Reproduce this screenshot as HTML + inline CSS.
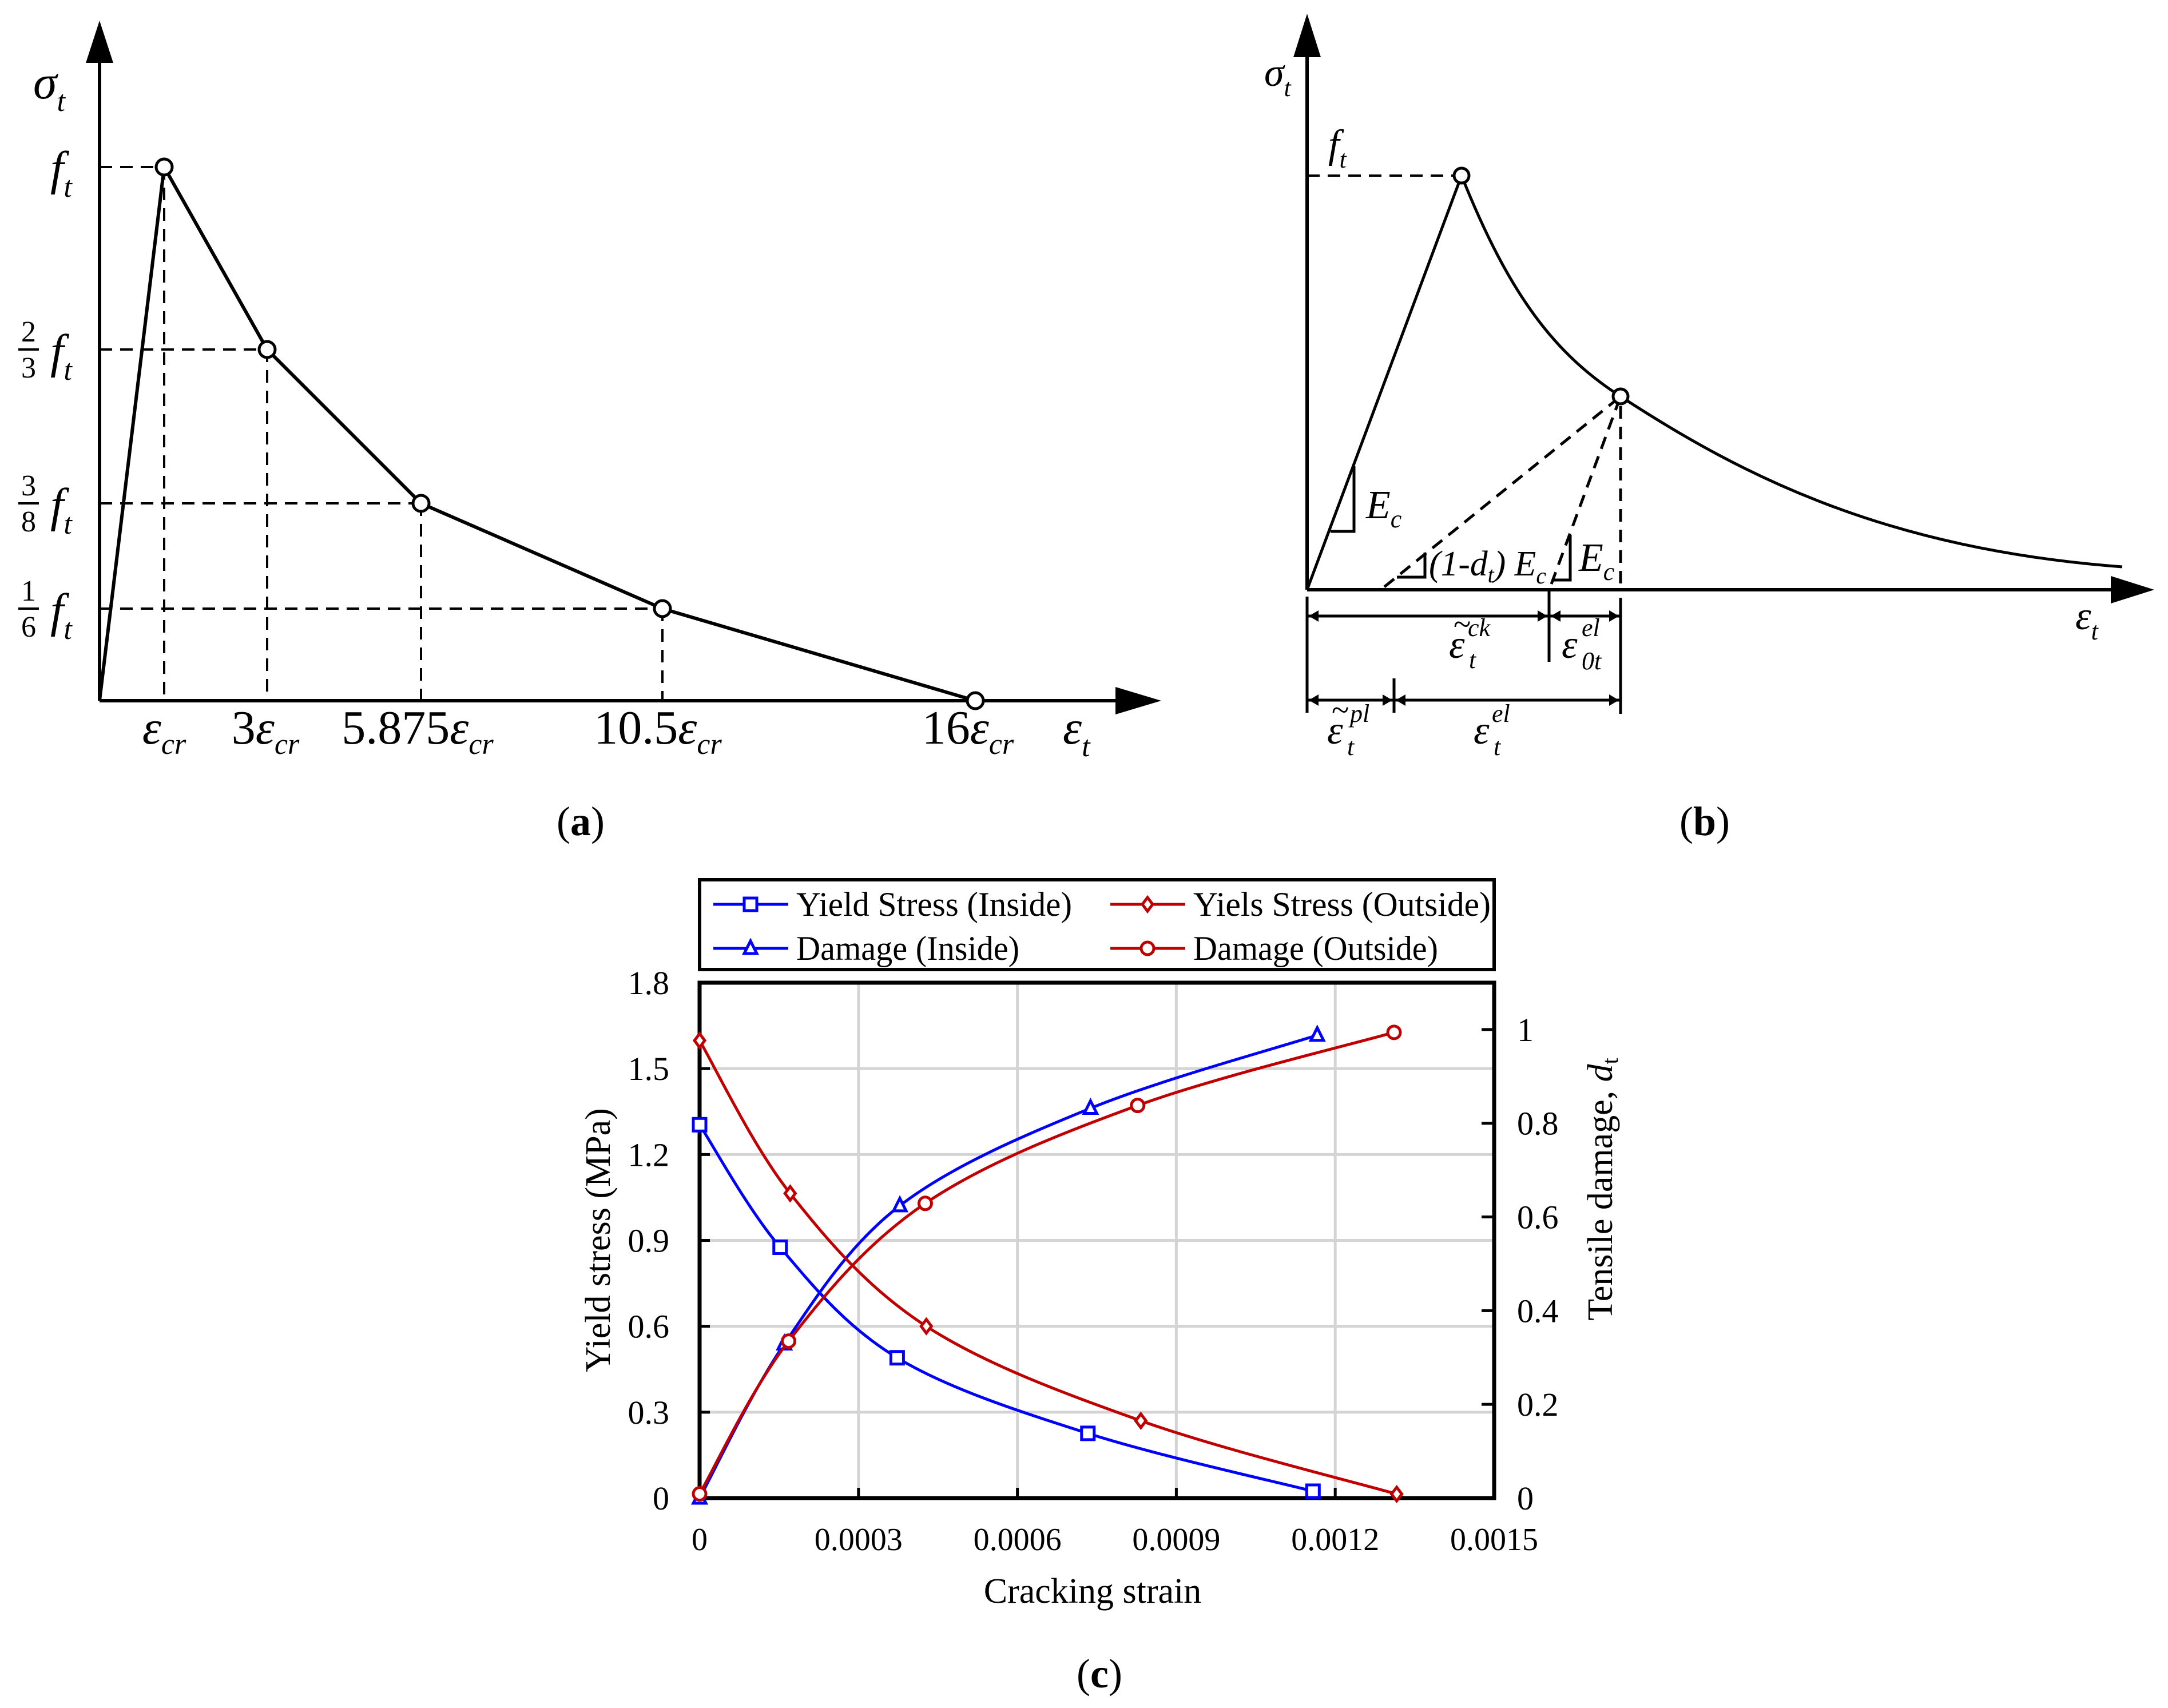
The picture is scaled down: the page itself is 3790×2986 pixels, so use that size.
<!DOCTYPE html>
<html><head><meta charset="utf-8"><style>
html,body{margin:0;padding:0;background:#fff;}
svg{display:block;font-family:"Liberation Serif",serif;}
.it{font-style:italic;}
</style></head><body>
<svg id="fig" width="3790" height="2986" viewBox="0 0 3790 2986" xmlns="http://www.w3.org/2000/svg">
<rect width="3790" height="2986" fill="#fff"/>

<!-- Panel (a) -->
<g stroke="#000" fill="none">
  <line x1="174" y1="1225" x2="174" y2="110" stroke-width="6"/>
  <polygon points="150,110 198,110 174,36" fill="#000" stroke="none"/>
  <line x1="174" y1="1225" x2="1950" y2="1225" stroke-width="6"/>
  <polygon points="1950,1201 1950,1249 2030,1225" fill="#000" stroke="none"/>
  <g stroke-width="4" stroke-dasharray="22,14">
    <line x1="174" y1="292" x2="287" y2="292"/><line x1="287" y1="292" x2="287" y2="1225"/>
    <line x1="174" y1="611" x2="467" y2="611"/><line x1="467" y1="611" x2="467" y2="1225"/>
    <line x1="174" y1="880" x2="736" y2="880"/><line x1="736" y1="880" x2="736" y2="1225"/>
    <line x1="174" y1="1064" x2="1158" y2="1064"/><line x1="1158" y1="1064" x2="1158" y2="1225"/>
  </g>
  <polyline points="174,1225 287,292 467,611 736,880 1158,1064 1705,1225" stroke-width="6"/>
  <g fill="#fff" stroke-width="5">
    <circle cx="287" cy="292" r="14"/><circle cx="467" cy="611" r="14"/><circle cx="736" cy="880" r="14"/><circle cx="1158" cy="1064" r="14"/><circle cx="1705" cy="1225" r="14"/>
  </g>
</g>
<g font-size="84">
  <text x="58" y="172" class="it">σ<tspan font-size="52" dy="22">t</tspan></text>
  <text x="88" y="322" class="it">f<tspan font-size="52" dy="22">t</tspan></text>
  <text x="50" y="597" font-size="52" text-anchor="middle">2</text><line x1="32" y1="611" x2="68" y2="611" stroke="#000" stroke-width="4"/><text x="50" y="660" font-size="52" text-anchor="middle">3</text>
  <text x="88" y="642" class="it">f<tspan font-size="52" dy="22">t</tspan></text>
  <text x="50" y="866" font-size="52" text-anchor="middle">3</text><line x1="32" y1="880" x2="68" y2="880" stroke="#000" stroke-width="4"/><text x="50" y="929" font-size="52" text-anchor="middle">8</text>
  <text x="88" y="911" class="it">f<tspan font-size="52" dy="22">t</tspan></text>
  <text x="50" y="1050" font-size="52" text-anchor="middle">1</text><line x1="32" y1="1064" x2="68" y2="1064" stroke="#000" stroke-width="4"/><text x="50" y="1113" font-size="52" text-anchor="middle">6</text>
  <text x="88" y="1095" class="it">f<tspan font-size="52" dy="22">t</tspan></text>
  <text x="287" y="1300" text-anchor="middle"><tspan class="it">ε</tspan><tspan class="it" font-size="52" dy="18">cr</tspan></text>
  <text x="464" y="1300" text-anchor="middle">3<tspan class="it">ε</tspan><tspan class="it" font-size="52" dy="18">cr</tspan></text>
  <text x="730" y="1300" text-anchor="middle">5.875<tspan class="it">ε</tspan><tspan class="it" font-size="52" dy="18">cr</tspan></text>
  <text x="1150" y="1300" text-anchor="middle">10.5<tspan class="it">ε</tspan><tspan class="it" font-size="52" dy="18">cr</tspan></text>
  <text x="1692" y="1300" text-anchor="middle">16<tspan class="it">ε</tspan><tspan class="it" font-size="52" dy="18">cr</tspan></text>
  <text x="1858" y="1300" class="it">ε<tspan font-size="52" dy="22">t</tspan></text>
  <text x="1015" y="1460" text-anchor="middle" font-size="72">(<tspan font-weight="bold">a</tspan>)</text>
</g>

<!-- Panel (b) -->
<g stroke="#000" fill="none">
  <line x1="2285" y1="1031" x2="2285" y2="100" stroke-width="6"/>
  <polygon points="2261,100 2309,100 2285,24" fill="#000" stroke="none"/>
  <line x1="2285" y1="1031" x2="3690" y2="1031" stroke-width="6"/>
  <polygon points="3690,1007 3690,1055 3766,1031" fill="#000" stroke="none"/>
  <line x1="2285" y1="307" x2="2555" y2="307" stroke-width="4" stroke-dasharray="22,14"/>
  <path d="M2285,1031 L2555,307 C2640,520 2720,620 2833,693 C3050,835 3300,960 3710,991" stroke-width="5"/>
  <g stroke-width="5" stroke-dasharray="22,14">
    <line x1="2420" y1="1026" x2="2833" y2="693"/>
    <line x1="2712" y1="1021" x2="2833" y2="693"/>
    <line x1="2833" y1="710" x2="2833" y2="1031"/>
  </g>
  <polyline points="2367,815 2367,929 2326,929" stroke-width="5"/>
  <polyline points="2491,966 2491,1009 2442,1009" stroke-width="5"/>
  <polyline points="2745,935 2745,1014 2714,1014" stroke-width="5"/>
  <circle cx="2555" cy="307" r="13" fill="#fff" stroke-width="5"/>
  <circle cx="2833" cy="693" r="13" fill="#fff" stroke-width="5"/>
  <g stroke-width="5">
    <line x1="2285" y1="1043" x2="2285" y2="1246"/>
    <line x1="2833" y1="1045" x2="2833" y2="1248"/>
    <line x1="2708" y1="1031" x2="2708" y2="1157"/>
    <line x1="2437" y1="1186" x2="2437" y2="1246"/>
    <line x1="2285" y1="1077" x2="2833" y2="1077"/>
    <line x1="2285" y1="1224" x2="2833" y2="1224"/>
  </g>
  <g fill="#000" stroke="none">
    <polygon points="2288,1077 2305,1067 2305,1087"/><polygon points="2705,1077 2688,1067 2688,1087"/>
    <polygon points="2711,1077 2728,1067 2728,1087"/><polygon points="2830,1077 2813,1067 2813,1087"/>
    <polygon points="2288,1224 2305,1214 2305,1234"/><polygon points="2434,1224 2417,1214 2417,1234"/>
    <polygon points="2440,1224 2457,1214 2457,1234"/><polygon points="2830,1224 2813,1214 2813,1234"/>
  </g>
</g>
<g font-size="70" class="it">
  <text x="2210" y="150" class="it">σ<tspan font-size="44" dy="18">t</tspan></text>
  <text x="2322" y="275" class="it">f<tspan font-size="44" dy="18">t</tspan></text>
  <text x="2388" y="906" class="it">E<tspan font-size="44" dy="16">c</tspan></text>
  <text x="2498" y="1006" class="it" font-size="62" textLength="205" lengthAdjust="spacingAndGlyphs">(1-d<tspan font-size="40" dy="12">t</tspan><tspan dy="-12">) E</tspan><tspan font-size="40" dy="14">c</tspan></text>
  <text x="2760" y="998" class="it">E<tspan font-size="44" dy="16">c</tspan></text>
  <text x="2533" y="1150" class="it">ε</text><text x="2541" y="1110" font-size="56" font-style="normal">~</text>
  <text x="2568" y="1168" font-size="44">t</text><text x="2566" y="1112" font-size="44">ck</text>
  <text x="2730" y="1150" class="it">ε</text>
  <text x="2765" y="1170" font-size="44">0t</text><text x="2765" y="1112" font-size="44">el</text>
  <text x="2320" y="1300" class="it">ε</text><text x="2328" y="1260" font-size="56" font-style="normal">~</text>
  <text x="2355" y="1320" font-size="44">t</text><text x="2360" y="1262" font-size="44">pl</text>
  <text x="2576" y="1300" class="it">ε</text>
  <text x="2611" y="1320" font-size="44">t</text><text x="2608" y="1262" font-size="44">el</text>
  <text x="3628" y="1100" class="it">ε<tspan font-size="44" dy="18">t</tspan></text>
  <text x="2980" y="1460" text-anchor="middle" font-size="72" font-style="normal">(<tspan font-weight="bold">b</tspan>)</text>
</g>

<!-- Panel (c) -->
<g id="chartc"></g>
</svg>
<script>
const xTicks = [0, 0.0003, 0.0006, 0.0009, 0.0012, 0.0015];
const xTickLabels = ["0", "0.0003", "0.0006", "0.0009", "0.0012", "0.0015"];
const yLeftTicks = [0, 0.3, 0.6, 0.9, 1.2, 1.5, 1.8];
const yLeftLabels = ["0", "0.3", "0.6", "0.9", "1.2", "1.5", "1.8"];
const yRightTicks = [0, 0.2, 0.4, 0.6, 0.8, 1];
const yRightLabels = ["0", "0.2", "0.4", "0.6", "0.8", "1"];
const yieldInsideX = [0, 0.000152, 0.000373, 0.000733, 0.001158];
const yieldInsideY = [1.304, 0.876, 0.49, 0.226, 0.024];
const yieldOutsideX = [0, 0.000171, 0.000428, 0.000833, 0.001316];
const yieldOutsideY = [1.598, 1.064, 0.60, 0.27, 0.014];
const damageInsideX = [0, 0.00016, 0.000378, 0.000738, 0.001166];
const damageInsideY = [0, 0.329, 0.624, 0.832, 0.988];
const damageOutsideX = [0, 0.000168, 0.000426, 0.000827, 0.001311];
const damageOutsideY = [0.009, 0.335, 0.629, 0.838, 0.994];

const NS = "http://www.w3.org/2000/svg";
const g = document.getElementById("chartc");
const L = 1223, R = 2612, T = 1718, B = 2619;
const xMax = 0.0015, yLMax = 1.8, yRMax = 1.1;
const sx = v => L + v / xMax * (R - L);
const syL = v => B - v / yLMax * (B - T);
const syR = v => B - v / yRMax * (B - T);
function el(tag, attrs, parent) {
  const e = document.createElementNS(NS, tag);
  for (const k in attrs) e.setAttribute(k, attrs[k]);
  (parent || g).appendChild(e);
  return e;
}
xTicks.forEach((t, i) => {
  if (i > 0 && i < xTicks.length - 1) {
    const l = el("line", {x1: sx(t), x2: sx(t), y1: T, y2: B, stroke: "#d4d4d4", "stroke-width": 5});
    
    
    el("line", {x1: sx(t), x2: sx(t), y1: B, y2: B - 18, stroke: "#000", "stroke-width": 5});
  }
  const tx = el("text", {x: sx(t), y: 2710, "text-anchor": "middle", "font-size": 56});
  tx.textContent = xTickLabels[i];
  
  
});
yLeftTicks.forEach((t, i) => {
  if (i > 0 && i < yLeftTicks.length - 1) {
    const l = el("line", {x1: L, x2: R, y1: syL(t), y2: syL(t), stroke: "#d4d4d4", "stroke-width": 5});
    
    
  }
  el("line", {x1: L, x2: L + 18, y1: syL(t), y2: syL(t), stroke: "#000", "stroke-width": 5});
  const tx = el("text", {x: 1170, y: syL(t) + 20, "text-anchor": "end", "font-size": 58});
  tx.textContent = yLeftLabels[i];
  
  
});
yRightTicks.forEach((t, i) => {
  el("line", {x1: R, x2: R - 22, y1: syR(t), y2: syR(t), stroke: "#000", "stroke-width": 5});
  const tx = el("text", {x: 2652, y: syR(t) + 20, "font-size": 58});
  tx.textContent = yRightLabels[i];
  
  
});
const frame = el("rect", {x: L, y: T, width: R - L, height: B - T, fill: "none", stroke: "#000", "stroke-width": 7});



function spline(pts) {
  let d = "M" + pts[0][0] + "," + pts[0][1];
  for (let i = 0; i < pts.length - 1; i++) {
    const p0 = pts[Math.max(0, i - 1)], p1 = pts[i], p2 = pts[i + 1], p3 = pts[Math.min(pts.length - 1, i + 2)];
    const c1 = [p1[0] + (p2[0] - p0[0]) / 6, p1[1] + (p2[1] - p0[1]) / 6];
    const c2 = [p2[0] - (p3[0] - p1[0]) / 6, p2[1] - (p3[1] - p1[1]) / 6];
    d += " C" + c1 + " " + c2 + " " + p2;
  }
  return d;
}
function marker(type, x, y, color, parent) {
  let m;
  if (type === "sq") m = el("rect", {x: x - 11, y: y - 11, width: 22, height: 22, fill: "#fff", stroke: color, "stroke-width": 5}, parent);
  else if (type === "tri") m = el("polygon", {points: `${x},${y-13} ${x-11},${y+9} ${x+11},${y+9}`, fill: "#fff", stroke: color, "stroke-width": 5}, parent);
  else if (type === "dia") m = el("polygon", {points: `${x},${y-12} ${x+9},${y} ${x},${y+12} ${x-9},${y}`, fill: "#fff", stroke: color, "stroke-width": 5}, parent);
  else m = el("circle", {cx: x, cy: y, r: 11, fill: "#fff", stroke: color, "stroke-width": 5}, parent);
  return m;
}
const series = [
  {xs: yieldInsideX, ys: yieldInsideY, sy: syL, c: "#0000ff", m: "sq", n: "yield-stress-inside"},
  {xs: damageInsideX, ys: damageInsideY, sy: syR, c: "#0000ff", m: "tri", n: "damage-inside"},
  {xs: yieldOutsideX, ys: yieldOutsideY, sy: syL, c: "#c00000", m: "dia", n: "yield-stress-outside"},
  {xs: damageOutsideX, ys: damageOutsideY, sy: syR, c: "#c00000", m: "circ", n: "damage-outside"}
];
series.forEach(s => {
  const sg = el("g", {});
  
  
  const pts = s.xs.map((x, i) => [sx(x), s.sy(s.ys[i])]);
  const p = el("path", {d: spline(pts), fill: "none", stroke: s.c, "stroke-width": 5}, sg);
  
  
  pts.forEach(pt => {
    const m = marker(s.m, pt[0], pt[1], s.c, sg);
    
    
  });
});
const lg = el("g", {});


el("rect", {x: 1223, y: 1538, width: 1389, height: 157, fill: "#fff", stroke: "#000", "stroke-width": 6}, lg);
const legendNames = ["Yield Stress (Inside)", "Yiels Stress (Outside)", "Damage (Inside)", "Damage (Outside)"];
const legendPos = [[1247, 1581, "#0000ff", "sq"], [1941, 1581, "#c00000", "dia"], [1247, 1658, "#0000ff", "tri"], [1941, 1658, "#c00000", "circ"]];
legendPos.forEach((p, i) => {
  const e = el("g", {}, lg);
  
  
  el("line", {x1: p[0], x2: p[0] + 131, y1: p[1], y2: p[1], stroke: p[2], "stroke-width": 5}, e);
  marker(p[3], p[0] + 65, p[1], p[2], e);
  const t = el("text", {x: p[0] + 145, y: p[1] + 20, "font-size": 60, textLength: i === 1 ? 520 : (i === 0 ? 482 : (i === 2 ? 390 : 428)), lengthAdjust: "spacingAndGlyphs"}, e);
  t.textContent = legendNames[i];
});
const xt = el("text", {x: 1910, y: 2802, "text-anchor": "middle", "font-size": 62});
xt.textContent = "Cracking  strain";


const yt = el("text", {x: 0, y: 0, "text-anchor": "middle", "font-size": 62, transform: "translate(1066,2168) rotate(-90)"});
yt.textContent = "Yield  stress (MPa)";


const yr = el("text", {x: 0, y: 0, "text-anchor": "middle", "font-size": 62, transform: "translate(2818,2079) rotate(-90)"});
yr.innerHTML = 'Tensile damage, <tspan font-style="italic">d</tspan><tspan font-size="40" dy="10">t</tspan>';


const cl = el("text", {x: 1922, y: 2950, "text-anchor": "middle", "font-size": 72});
cl.innerHTML = '(<tspan font-weight="bold">c</tspan>)';


</script>
</body></html>
